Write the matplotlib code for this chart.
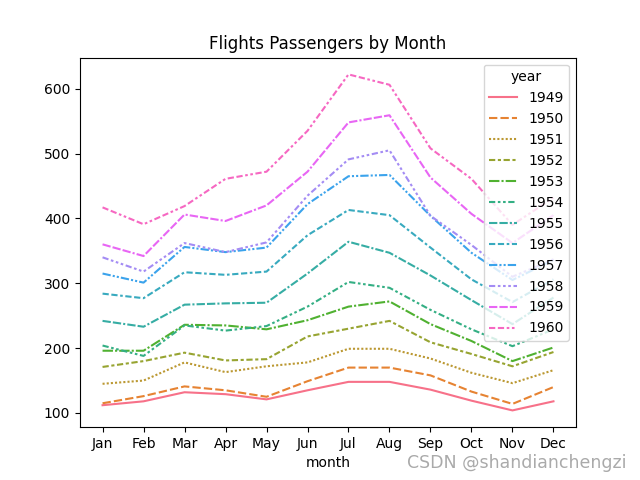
import matplotlib
matplotlib.use("Agg")
import matplotlib.pyplot as plt
import seaborn as sns
import pandas as pd

months = ["Jan", "Feb", "Mar", "Apr", "May", "Jun", "Jul", "Aug", "Sep", "Oct", "Nov", "Dec"]
years = list(range(1949, 1961))
p1949 = [112, 118, 132, 129, 121, 135, 148, 148, 136, 119, 104, 118]
p1950 = [115, 126, 141, 135, 125, 149, 170, 170, 158, 133, 114, 140]
p1951 = [145, 150, 178, 163, 172, 178, 199, 199, 184, 162, 146, 166]
p1952 = [171, 180, 193, 181, 183, 218, 230, 242, 209, 191, 172, 194]
p1953 = [196, 196, 236, 235, 229, 243, 264, 272, 237, 211, 180, 201]
p1954 = [204, 188, 235, 227, 234, 264, 302, 293, 259, 229, 203, 229]
p1955 = [242, 233, 267, 269, 270, 315, 364, 347, 312, 274, 237, 278]
p1956 = [284, 277, 317, 313, 318, 374, 413, 405, 355, 306, 271, 306]
p1957 = [315, 301, 356, 348, 355, 422, 465, 467, 404, 347, 305, 336]
p1958 = [340, 318, 362, 348, 363, 435, 491, 505, 404, 359, 310, 337]
p1959 = [360, 342, 406, 396, 420, 472, 548, 559, 463, 407, 362, 405]
p1960 = [417, 391, 419, 461, 472, 535, 622, 606, 508, 461, 390, 432]
series = [p1949, p1950, p1951, p1952, p1953, p1954, p1955, p1956, p1957, p1958, p1959, p1960]

rows = []
for y, vals in zip(years, series):
    for m, v in zip(months, vals):
        rows.append({"year": str(y), "month": m, "passengers": v})
df = pd.DataFrame(rows)
df["month"] = pd.Categorical(df["month"], categories=months, ordered=True)
df["year"] = pd.Categorical(df["year"], categories=[str(y) for y in years], ordered=True)

fig, ax = plt.subplots(figsize=(6.4, 4.8), dpi=100)
sns.lineplot(data=df, x="month", y="passengers", hue="year", style="year", ax=ax)
ax.set_title("Flights Passengers by Month")
ax.set_ylabel("")
ax.set_xlabel("month")
ax.legend(title="year", loc="upper right")
fig.text(0.636, 0.025, "CSDN @shandianchengzi", fontsize=12.5, color="#aaaaaa")
fig.savefig("out.png")
